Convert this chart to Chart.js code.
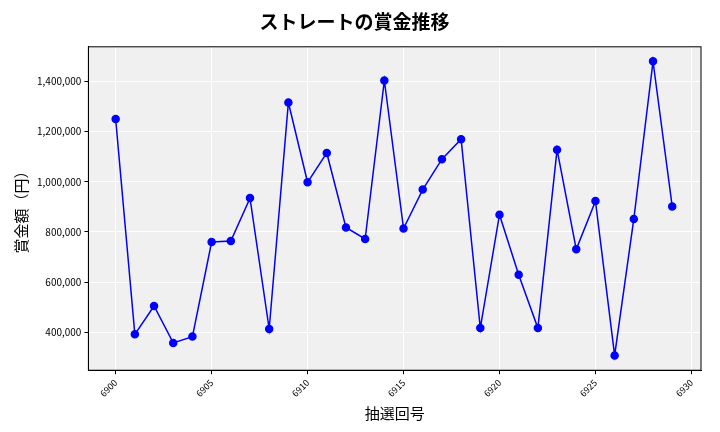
<!DOCTYPE html>
<html>
<head>
<meta charset="utf-8">
<script src="https://cdn.jsdelivr.net/npm/chart.js@4"></script>
<style>
  body { margin: 0; background: #fff; }
</style>
</head>
<body>
<canvas id="chart" width="720" height="432"></canvas>
<script>
const drawNumbers = [6900, 6901, 6902, 6903, 6904, 6905, 6906, 6907, 6908, 6909,
  6910, 6911, 6912, 6913, 6914, 6915, 6916, 6917, 6918, 6919,
  6920, 6921, 6922, 6923, 6924, 6925, 6926, 6927, 6928, 6929];
const prizes = [1250000, 392000, 505000, 358000, 383000, 760000, 764000, 935000, 413000, 1316000,
  998000, 1115000, 818000, 772000, 1404000, 814000, 969000, 1090000, 1170000, 417000,
  869000, 630000, 417000, 1128000, 731000, 923000, 308000, 852000, 1480000, 902000];

const fontFamily = "'Noto Sans CJK JP', 'DejaVu Sans', sans-serif";

// grey plot background and black frame
const plotBg = {
  id: "plotBg",
  beforeDraw(chart) {
    const a = chart.chartArea;
    const ctx = chart.ctx;
    ctx.save();
    ctx.fillStyle = "#f0f0f0";
    ctx.fillRect(a.left, a.top, a.right - a.left, a.bottom - a.top);
    ctx.restore();
  },
  afterDraw(chart) {
    const a = chart.chartArea;
    const ctx = chart.ctx;
    ctx.save();
    ctx.strokeStyle = "#000";
    ctx.lineWidth = 1;
    ctx.strokeRect(a.left, a.top, a.right - a.left, a.bottom - a.top);
    ctx.restore();
  },
};

new Chart(document.getElementById("chart"), {
  type: "line",
  data: {
    datasets: [
      {
        data: drawNumbers.map((n, i) => ({ x: n, y: prizes[i] })),
        borderColor: "#0000ff",
        backgroundColor: "#0000ff",
        borderWidth: 1.5,
        pointRadius: 3.5,
        pointHoverRadius: 3.5,
        tension: 0,
      },
    ],
  },
  options: {
    responsive: false,
    animation: false,
    layout: { padding: { left: 8, right: 19, top: 4, bottom: 6 } },
    plugins: {
      legend: { display: false },
      tooltip: { enabled: false },
      title: {
        display: true,
        text: "ストレートの賞金推移",
        color: "#000",
        font: { family: fontFamily, size: 19, weight: "bold" },
        padding: { top: 6, bottom: 14 },
      },
    },
    scales: {
      x: {
        type: "linear",
        min: 6898.58,
        max: 6930.5,
        afterBuildTicks(axis) {
          axis.ticks = [6900, 6905, 6910, 6915, 6920, 6925, 6930].map((v) => ({ value: v }));
        },
        grid: { color: "#ffffff", drawTicks: true, tickColor: "#000", tickLength: 4 },
        border: { color: "#000" },
        ticks: {
          color: "#000",
          maxRotation: 45,
          minRotation: 45,
          font: { family: fontFamily, size: 9 },
          callback: (v) => String(v),
        },
        title: {
          display: true,
          text: "抽選回号",
          color: "#000",
          font: { family: fontFamily, size: 15 },
          padding: { top: 2 },
        },
      },
      y: {
        min: 249000,
        max: 1538000,
        afterBuildTicks(axis) {
          axis.ticks = [400000, 600000, 800000, 1000000, 1200000, 1400000].map((v) => ({ value: v }));
        },
        grid: { color: "#ffffff", tickColor: "#000", tickLength: 4 },
        border: { color: "#000" },
        ticks: {
          color: "#000",
          font: { family: fontFamily, size: 10 },
          callback: (v) => v.toLocaleString("en-US"),
        },
        title: {
          display: true,
          text: "賞金額（円）",
          color: "#000",
          font: { family: fontFamily, size: 15 },
        },
      },
    },
  },
  plugins: [plotBg],
});
</script>
</body>
</html>
